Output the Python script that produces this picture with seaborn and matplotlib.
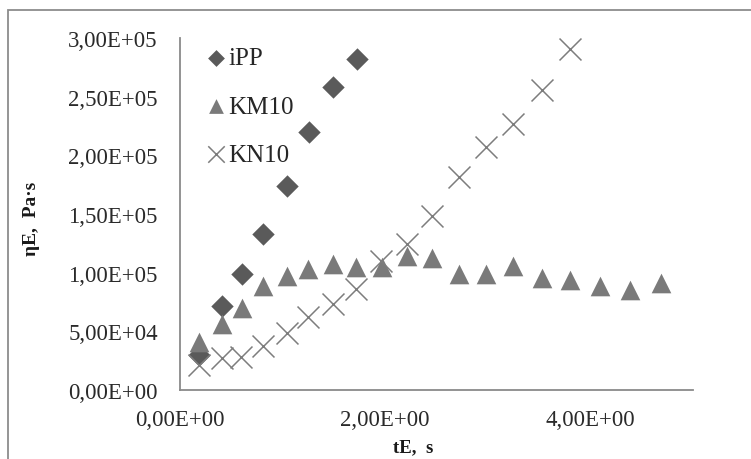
import numpy as np
import pandas as pd
import matplotlib
matplotlib.use("Agg")
import matplotlib.pyplot as plt
from matplotlib.ticker import FuncFormatter
from matplotlib.patches import Rectangle
import seaborn as sns

# ---- data ----
ipp_t = [0.19, 0.41, 0.60, 0.81, 1.04, 1.26, 1.49, 1.73]
ipp_eta = [30000, 71500, 99000, 133000, 174000, 220000, 258000, 282000]

km10_t = [0.19, 0.41, 0.60, 0.81, 1.04, 1.25, 1.49, 1.72, 1.97, 2.21, 2.46,
          2.72, 2.98, 3.25, 3.53, 3.80, 4.09, 4.39, 4.69]
km10_eta = [41000, 56000, 70000, 89000, 97000, 103000, 107000, 105000, 105000,
            114000, 112500, 99000, 99000, 105500, 95500, 94000, 88600, 85200, 90800]

kn10_t = [0.19, 0.41, 0.59, 0.81, 1.04, 1.25, 1.49, 1.72, 1.96, 2.21, 2.46,
          2.72, 2.98, 3.25, 3.53, 3.80]
kn10_eta = [21000, 27000, 28000, 37500, 48600, 62000, 73300, 86000, 110000,
            124400, 148000, 181500, 207000, 226700, 255700, 290600]

series_names = ["iPP", "KM10", "KN10"]
x_ticks = [0, 2, 4]
y_ticks = [0, 50000, 100000, 150000, 200000, 250000, 300000]
x_label = "tE,  s"
y_label = "ηE,  Pa·s"

sns.set_theme(style="white")
plt.rcParams["font.family"] = ["Liberation Serif", "DejaVu Serif"]

fig = plt.figure(figsize=(7.51, 4.60), dpi=100)
ax = fig.add_axes([180 / 751, 1 - 391 / 460, (693 - 180) / 751, (391 - 39) / 460])

sns.scatterplot(x=ipp_t, y=ipp_eta, marker="D", s=130, color="#5a5a5a",
                linewidth=0, label=series_names[0], ax=ax)
sns.scatterplot(x=km10_t, y=km10_eta, marker="^", s=200, color="#7a7a7a",
                linewidth=0, label=series_names[1], ax=ax)
sns.scatterplot(x=kn10_t, y=kn10_eta, marker="x", s=250, color="#7d7d7d",
                linewidth=1.1, label=series_names[2], ax=ax)

ax.set_xlim(0, 5)
ax.set_ylim(0, 300000)
ax.set_xticks(x_ticks)
ax.set_yticks(y_ticks)
fmt = FuncFormatter(lambda v, p: f"{v:.2E}".replace(".", ","))
ax.xaxis.set_major_formatter(fmt)
ax.yaxis.set_major_formatter(fmt)

for side in ["top", "right"]:
    ax.spines[side].set_visible(False)
for side in ["left", "bottom"]:
    ax.spines[side].set_color("#8a8a8a")
    ax.spines[side].set_linewidth(1.3)

ax.tick_params(axis="both", which="major", direction="out", length=5,
               width=1.0, color="#8a8a8a", labelsize=16.5, labelcolor="#2a2a2a")
ax.tick_params(axis="y", pad=11)
ax.tick_params(axis="x", pad=9)

ax.set_xlabel(x_label, fontsize=13.5, fontweight="bold", color="#1a1a1a")
ax.set_ylabel(y_label, fontsize=14, fontweight="bold", color="#1a1a1a")
ax.xaxis.set_label_coords(0.454, -0.138)
ax.yaxis.set_label_coords(-0.272, 0.49)

leg = ax.legend(loc="upper left", bbox_to_anchor=(0.048, 0.975), frameon=False,
                fontsize=18, markerscale=0.75, handlelength=0.9, handletextpad=0.05,
                labelspacing=1.03, borderpad=0, borderaxespad=0)
for t in leg.get_texts():
    t.set_color("#262626")

fig.patches.append(Rectangle((8 / 751, -0.1), 2, 1 - 11 / 460 + 0.1,
                             transform=fig.transFigure, fill=False,
                             edgecolor="#8c8c8c", linewidth=1.3))

fig.savefig("out.png", dpi=100)
